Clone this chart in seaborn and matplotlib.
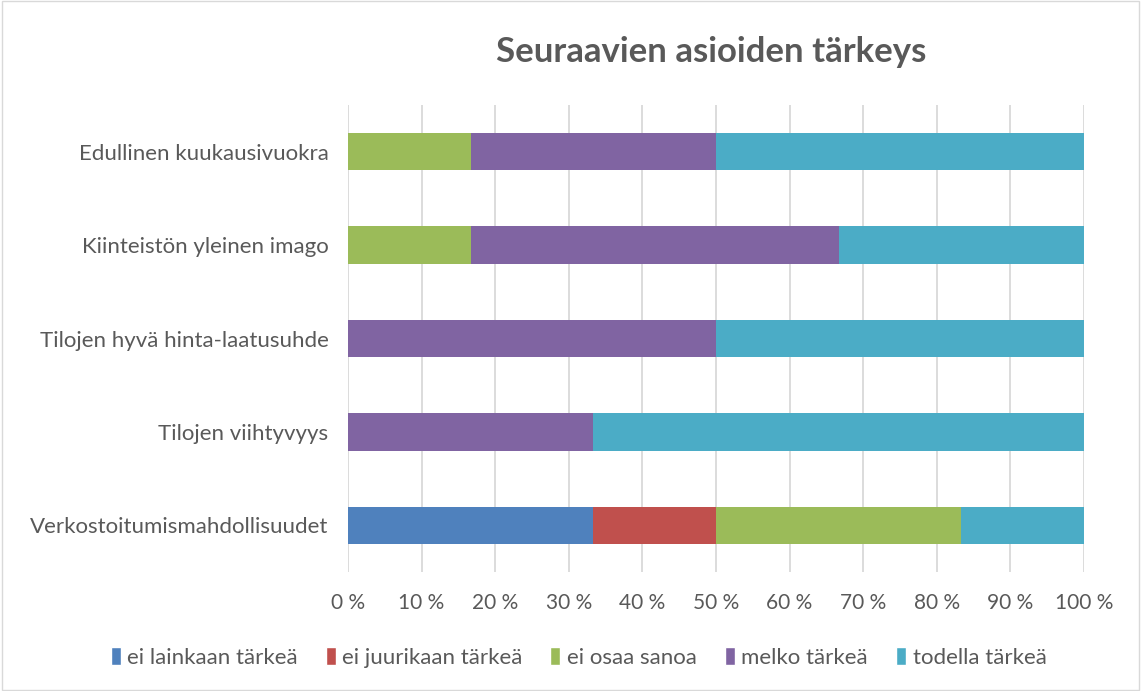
import matplotlib
matplotlib.use("Agg")
import matplotlib.pyplot as plt
import numpy as np
import pandas as pd
import seaborn as sns
from matplotlib.patches import Patch, Rectangle

categories = [
    "Edullinen kuukausivuokra",
    "Kiinteistön yleinen imago",
    "Tilojen hyvä hinta-laatusuhde",
    "Tilojen viihtyvyys",
    "Verkostoitumismahdollisuudet",
]
series_names = ["ei lainkaan tärkeä", "ei juurikaan tärkeä", "ei osaa sanoa",
                "melko tärkeä", "todella tärkeä"]
ei_lainkaan = [0, 0, 0, 0, 33.3]
ei_juurikaan = [0, 0, 0, 0, 16.7]
ei_osaa = [16.7, 16.7, 0, 0, 33.3]
melko = [33.3, 50.0, 50.0, 33.3, 0]
todella = [50.0, 33.3, 50.0, 66.7, 16.7]
colors = ["#4F81BD", "#C0504D", "#9BBB59", "#8064A2", "#4BACC6"]
x_ticks = list(range(0, 101, 10))
x_labels = [f"{t} %" for t in x_ticks]

sns.set_style("white")
plt.rcParams["font.family"] = ["Lato", "DejaVu Sans"]
text_color = "#595959"

values = np.array([ei_lainkaan, ei_juurikaan, ei_osaa, melko, todella])
cum = np.cumsum(values, axis=0)

fig = plt.figure(figsize=(11.41, 6.91), dpi=100)
ax = fig.add_axes([0.305, 0.172, 0.645, 0.676])

# draw cumulative bars from the widest down so each segment shows
for i in range(len(series_names) - 1, -1, -1):
    df = pd.DataFrame({"kategoria": categories, "arvo": cum[i]})
    sns.barplot(data=df, x="arvo", y="kategoria", color=colors[i],
                width=0.4, saturation=1, linewidth=0, ax=ax, zorder=2)

ax.set_xlim(0, 100)
ax.set_ylim(4.5, -0.5)
ax.set_xticks(x_ticks)
ax.set_xticklabels(x_labels, fontsize=15, color=text_color)
ax.tick_params(axis="y", labelsize=16, labelcolor=text_color, length=0, pad=14)
ax.tick_params(axis="x", length=0, pad=15)
ax.xaxis.grid(True, color="#D9D9D9", linewidth=1.3, zorder=0)
ax.set_axisbelow(True)
ax.set_xlabel("")
ax.set_ylabel("")
for s in ax.spines.values():
    s.set_visible(False)

fig.text(0.623, 0.925, "Seuraavien asioiden tärkeys", ha="center", va="center",
         fontsize=25, fontweight="bold", color=text_color)

handles = [Patch(facecolor=c, label=n) for c, n in zip(colors, series_names)]
fig.legend(handles=handles, loc="center", bbox_to_anchor=(0.507, 0.049), ncol=5,
           frameon=False, fontsize=16, handlelength=0.45, handleheight=0.9,
           handletextpad=0.3, columnspacing=1.25, labelcolor=text_color)

fig.add_artist(Rectangle((0.002, 0.002), 0.996, 0.996, transform=fig.transFigure,
                         fill=False, edgecolor="#D9D9D9", linewidth=1))

fig.savefig("out.png", dpi=100)
